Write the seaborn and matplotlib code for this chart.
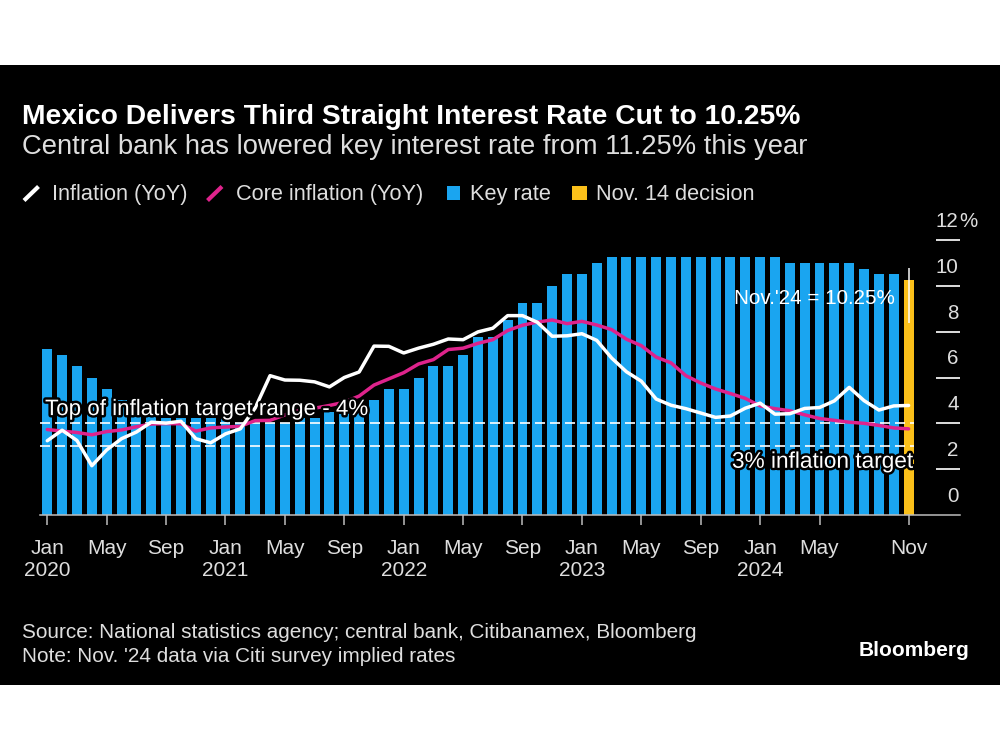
import numpy as np
import pandas as pd
import matplotlib
matplotlib.use("Agg")
import matplotlib.pyplot as plt
import matplotlib.transforms as mtransforms
import matplotlib.patheffects as pe
from matplotlib.patches import Rectangle
from matplotlib.lines import Line2D
import seaborn as sns

# ---------------- data ----------------
months = pd.date_range("2020-01-01", "2024-11-01", freq="MS")

key_rate = [
    7.25, 7.00, 6.50, 6.00, 5.50, 5.00, 5.00, 4.50, 4.25, 4.25, 4.25, 4.25,      # 2020
    4.25, 4.00, 4.00, 4.00, 4.00, 4.25, 4.25, 4.50, 4.75, 4.75, 5.00, 5.50,      # 2021
    5.50, 6.00, 6.50, 6.50, 7.00, 7.75, 7.75, 8.50, 9.25, 9.25, 10.00, 10.50,    # 2022
    10.50, 11.00, 11.25, 11.25, 11.25, 11.25, 11.25, 11.25, 11.25, 11.25, 11.25, 11.25,  # 2023
    11.25, 11.25, 11.00, 11.00, 11.00, 11.00, 11.00, 10.75, 10.50, 10.50, 10.25,  # 2024
]
inflation = [
    3.24, 3.70, 3.25, 2.15, 2.84, 3.33, 3.62, 4.05, 4.01, 4.09, 3.33, 3.15,
    3.54, 3.76, 4.67, 6.08, 5.89, 5.88, 5.81, 5.59, 6.00, 6.24, 7.37, 7.36,
    7.07, 7.28, 7.45, 7.68, 7.65, 7.99, 8.15, 8.70, 8.70, 8.41, 7.80, 7.82,
    7.91, 7.62, 6.85, 6.25, 5.84, 5.06, 4.79, 4.64, 4.45, 4.26, 4.32, 4.66,
    4.88, 4.40, 4.42, 4.65, 4.69, 4.98, 5.57, 4.99, 4.58, 4.76, 4.78,
]
core_inflation = [
    3.73, 3.66, 3.60, 3.50, 3.64, 3.71, 3.85, 3.97, 3.99, 3.98, 3.66, 3.80,
    3.84, 3.87, 4.12, 4.13, 4.37, 4.58, 4.66, 4.78, 4.92, 5.19, 5.67, 5.94,
    6.21, 6.59, 6.78, 7.22, 7.28, 7.49, 7.65, 8.05, 8.28, 8.42, 8.51, 8.35,
    8.45, 8.29, 8.09, 7.67, 7.39, 6.89, 6.64, 6.08, 5.76, 5.50, 5.30, 5.09,
    4.76, 4.64, 4.55, 4.37, 4.21, 4.13, 4.05, 4.00, 3.91, 3.80, 3.76,
]
bar_kind = ["Key rate"] * (len(months) - 1) + ["Nov. 14 decision"]

tick_dates = ["2020-01", "2020-05", "2020-09", "2021-01", "2021-05", "2021-09",
              "2022-01", "2022-05", "2022-09", "2023-01", "2023-05", "2023-09",
              "2024-01", "2024-05", "2024-11"]
tick_labels = ["Jan\n2020", "May", "Sep", "Jan\n2021", "May", "Sep",
               "Jan\n2022", "May", "Sep", "Jan\n2023", "May", "Sep",
               "Jan\n2024", "May", "Nov"]
y_labels = [0, 2, 4, 6, 8, 10, 12]
target_top = 4
target = 3

title = "Mexico Delivers Third Straight Interest Rate Cut to 10.25%"
subtitle = "Central bank has lowered key interest rate from 11.25% this year"
legend_items = ["Inflation (YoY)", "Core inflation (YoY)", "Key rate", "Nov. 14 decision"]
source = "Source: National statistics agency; central bank, Citibanamex, Bloomberg"
note = "Note: Nov. '24 data via Citi survey implied rates"

# ---------------- style ----------------
BLUE = "#1AA5F0"
YELLOW = "#FBC01A"
MAGENTA = "#DF238C"
WHITE = "#FFFFFF"
LIGHT = "#DEDEDE"
AXISGREY = "#BDBDBD"

sns.set_theme(style="dark", rc={"axes.facecolor": "black", "figure.facecolor": "white"})
plt.rcParams["font.family"] = ["Liberation Sans", "DejaVu Sans"]

W, H = 1000, 750
def fx(x):
    return x / W
def fy(y):
    return 1 - y / H

fig = plt.figure(figsize=(10, 7.5), dpi=100)
fig.add_artist(Rectangle((0, fy(685)), 1, (685 - 65) / H, transform=fig.transFigure,
                         facecolor="black", edgecolor="none", zorder=0))

ax = fig.add_axes([fx(40), fy(515), 0.92, (515 - 212.5) / H])
ax.set_facecolor("black")

pos = np.arange(len(months))
df = pd.DataFrame({"pos": pos, "rate": key_rate, "kind": bar_kind,
                   "infl": inflation, "core": core_inflation})

sns.barplot(data=df, x="pos", y="rate", hue="kind",
            palette={"Key rate": BLUE, "Nov. 14 decision": YELLOW},
            native_scale=True, dodge=False, width=0.67, saturation=1,
            errorbar=None, legend=False, linewidth=0, ax=ax, zorder=1)

# target lines
ax.hlines([target_top, target], -0.5, pos[-1] + 0.33, colors=WHITE, linewidth=1.2,
          linestyles=(0, (6, 3)), zorder=2)

sns.lineplot(data=df, x="pos", y="core", color=MAGENTA, linewidth=2.5,
             estimator=None, errorbar=None, ax=ax, zorder=3)
sns.lineplot(data=df, x="pos", y="infl", color=WHITE, linewidth=2.5,
             estimator=None, errorbar=None, ax=ax, zorder=4)

ax.set_xlim(-0.49, 61.46)
ax.set_ylim(0, 13.2)
ax.set_xlabel("")
ax.set_ylabel("")

# x axis
tick_pos = [months.get_loc(pd.Timestamp(d + "-01")) for d in tick_dates]
ax.set_xticks(tick_pos)
ax.set_xticklabels(tick_labels, fontsize=15, color=LIGHT, linespacing=1.2)
ax.tick_params(axis="x", direction="out", length=7, width=1.1, color=AXISGREY,
               pad=10, bottom=True)
ax.set_yticks([])
for s in ["top", "left", "right"]:
    ax.spines[s].set_visible(False)
ax.spines["bottom"].set_color(AXISGREY)
ax.spines["bottom"].set_linewidth(1.1)
ax.grid(False)

# right-side y labels
trans = mtransforms.blended_transform_factory(ax.transAxes, ax.transData)
xr = (958.5 - 40) / 920
for v in y_labels:
    ax.text(xr, v + 0.57, f"{v}", transform=trans, ha="right", va="baseline",
            fontsize=14.8, color=LIGHT)
    if v > 0:
        ax.plot([(936 - 40) / 920, 1.0], [v, v], transform=trans, color=LIGHT,
                lw=1.4, clip_on=False, solid_capstyle="butt")
ax.text(xr + 0.001, y_labels[-1] + 0.57, "%", transform=trans, ha="left", va="baseline",
        fontsize=14.8, color=LIGHT)

# annotations
stroke = [pe.withStroke(linewidth=3.5, foreground="black")]
ax.text(-0.15, target_top + 0.36, "Top of inflation target range - 4%", fontsize=16.1,
        color=WHITE, ha="left", va="baseline", path_effects=stroke, zorder=6)
ax.text(pos[-1] + 0.3, target - 0.94, "3% inflation target", fontsize=16.3,
        color=WHITE, ha="right", va="baseline", path_effects=stroke, zorder=6)
ax.text(pos[-1] - 0.92, 9.19, "Nov.'24 = 10.25%", fontsize=14.9,
        color=WHITE, ha="right", va="baseline", zorder=6)
ax.vlines(pos[-1], key_rate[-1] - 1.85, key_rate[-1] + 0.53, colors=WHITE,
          linewidth=1.2, alpha=0.9, zorder=5)

# titles
fig.text(fx(22), fy(123.5), title, fontsize=20.3, fontweight="bold", color=WHITE,
         ha="left", va="baseline")
fig.text(fx(22), fy(154.5), subtitle, fontsize=19.7, color=LIGHT,
         ha="left", va="baseline")

# legend
leg_y = 200
fig.add_artist(Line2D([fx(24), fx(38.5)], [fy(200.5), fy(186.5)], transform=fig.transFigure,
                      color=WHITE, lw=3, solid_capstyle="butt"))
fig.text(fx(52), fy(leg_y), legend_items[0], fontsize=15.7, color=LIGHT, va="baseline")
fig.add_artist(Line2D([fx(207.5), fx(222)], [fy(200.5), fy(186.5)], transform=fig.transFigure,
                      color=MAGENTA, lw=3, solid_capstyle="butt"))
fig.text(fx(236), fy(leg_y), legend_items[1], fontsize=15.7, color=LIGHT, va="baseline")
fig.add_artist(Rectangle((fx(447), fy(200)), 13 / W, 14 / H, transform=fig.transFigure,
                         facecolor=BLUE, edgecolor="none"))
fig.text(fx(470), fy(leg_y), legend_items[2], fontsize=15.7, color=LIGHT, va="baseline")
fig.add_artist(Rectangle((fx(572), fy(200)), 15 / W, 14 / H, transform=fig.transFigure,
                         facecolor=YELLOW, edgecolor="none"))
fig.text(fx(596), fy(leg_y), legend_items[3], fontsize=15.7, color=LIGHT, va="baseline")

# footer
fig.text(fx(22), fy(638.5), source, fontsize=14.95, color=LIGHT, va="baseline")
fig.text(fx(22), fy(662.5), note, fontsize=14.95, color=LIGHT, va="baseline")
fig.text(fx(969), fy(656.5), "Bloomberg", fontsize=15, fontweight="bold", color=WHITE,
         ha="right", va="baseline")

fig.savefig("out.png", dpi=100, facecolor="white")
